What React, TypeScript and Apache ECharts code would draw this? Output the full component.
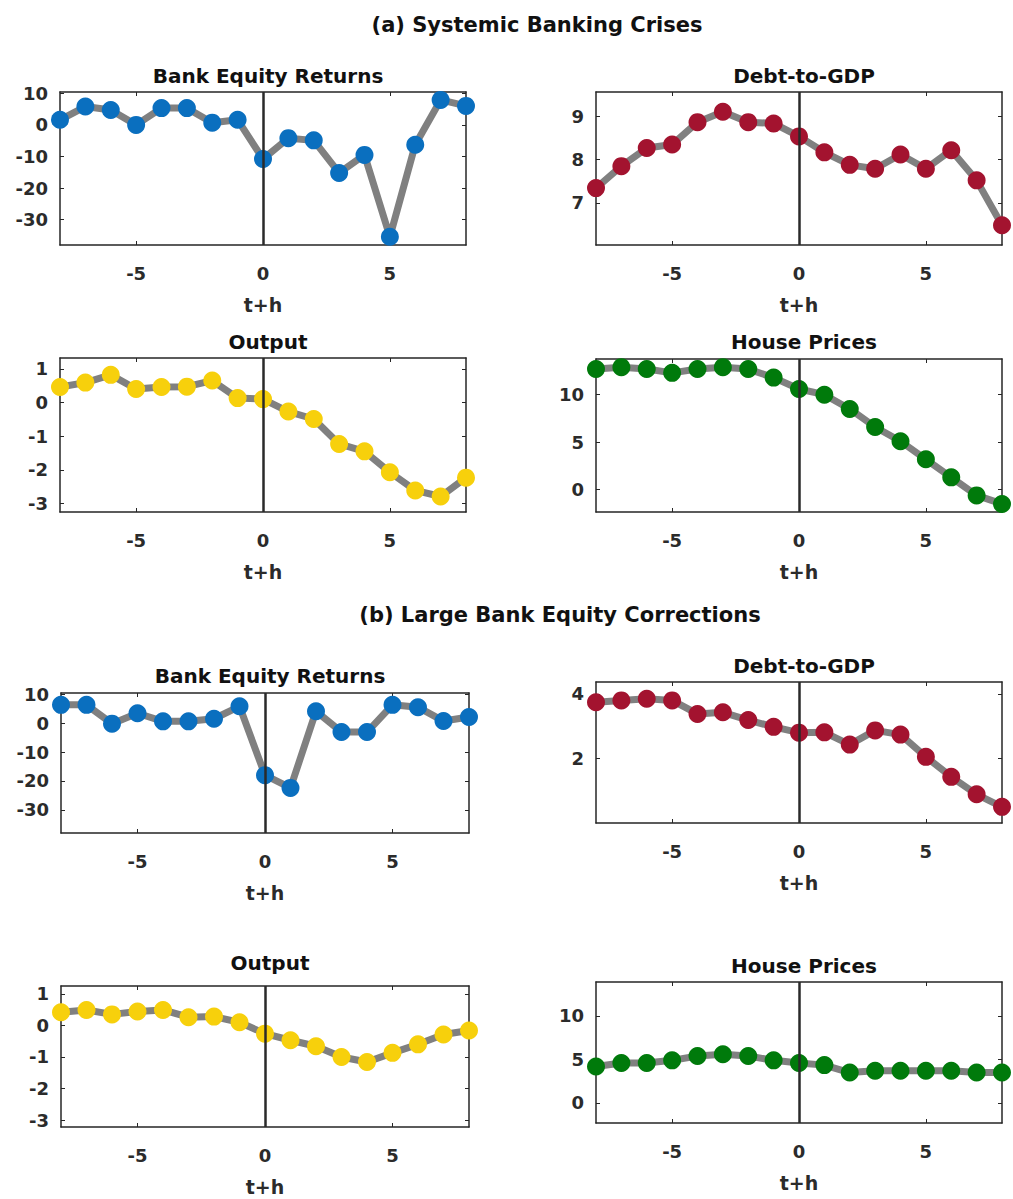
import React, { useEffect, useRef } from "react";
import * as echarts from "echarts";

const horizons: number[] = [-8, -7, -6, -5, -4, -3, -2, -1, 0, 1, 2, 3, 4, 5, 6, 7, 8];

// (a) Systemic Banking Crises
const aBankEquity: number[] = [1.6, 5.8, 4.7, 0.0, 5.3, 5.3, 0.7, 1.6, -10.8, -4.2, -4.9, -15.2, -9.5, -35.4, -6.3, 7.9, 6.0];
const aDebt: number[] = [7.34, 7.85, 8.27, 8.35, 8.87, 9.11, 8.87, 8.84, 8.54, 8.17, 7.88, 7.79, 8.12, 7.79, 8.22, 7.52, 6.48];
const aOutput: number[] = [0.46, 0.59, 0.82, 0.4, 0.46, 0.47, 0.65, 0.13, 0.1, -0.27, -0.49, -1.23, -1.45, -2.07, -2.61, -2.79, -2.23];
const aHouse: number[] = [12.7, 12.9, 12.7, 12.3, 12.7, 12.9, 12.7, 11.8, 10.6, 10.0, 8.5, 6.6, 5.1, 3.2, 1.3, -0.6, -1.5];

// (b) Large Bank Equity Corrections
const bBankEquity: number[] = [6.3, 6.3, -0.2, 3.4, 0.6, 0.6, 1.5, 5.8, -18.0, -22.4, 4.1, -3.1, -3.1, 6.3, 5.5, 0.7, 2.1];
const bDebt: number[] = [3.74, 3.8, 3.85, 3.8, 3.38, 3.43, 3.19, 2.98, 2.8, 2.81, 2.43, 2.87, 2.74, 2.05, 1.43, 0.89, 0.5];
const bOutput: number[] = [0.42, 0.49, 0.35, 0.44, 0.49, 0.26, 0.28, 0.1, -0.26, -0.47, -0.66, -1.0, -1.16, -0.87, -0.6, -0.29, -0.16];
const bHouse: number[] = [4.2, 4.6, 4.6, 4.9, 5.4, 5.6, 5.4, 4.9, 4.6, 4.35, 3.5, 3.7, 3.7, 3.7, 3.7, 3.5, 3.5];

// tick labels
const xTicks: number[] = [-5, 0, 5];
const bankTicks: number[] = [-30, -20, -10, 0, 10];
const debtATicks: number[] = [7, 8, 9];
const debtBTicks: number[] = [2, 4];
const outputTicks: number[] = [-3, -2, -1, 0, 1];
const houseTicks: number[] = [0, 5, 10];

const sectionTitles: string[] = ["(a) Systemic Banking Crises", "(b) Large Bank Equity Corrections"];
const panelTitles: string[] = ["Bank Equity Returns", "Debt-to-GDP", "Output", "House Prices"];
const xName = "t+h";

const FONT = "'DejaVu Sans', 'Liberation Sans', Arial, sans-serif";
const AXIS_COLOR = "#262626";
const LINE_GRAY = "#808080";
const COLORS = ["#0A6FBF", "#A3132F", "#F7D00C", "#007A0B"];

type Panel = {
  title: string;
  data: number[];
  ticks: number[];
  min: number;
  max: number;
  color: string;
  grid: { left: number; top: number; width: number; height: number };
  titleY: number;
};

const panels: Panel[] = [
  { title: panelTitles[0], data: aBankEquity, ticks: bankTicks, min: -38, max: 10.4, color: COLORS[0], grid: { left: 60, top: 92, width: 406, height: 153 }, titleY: 73 },
  { title: panelTitles[1], data: aDebt, ticks: debtATicks, min: 6.02, max: 9.57, color: COLORS[1], grid: { left: 596, top: 92, width: 406, height: 153 }, titleY: 73 },
  { title: panelTitles[2], data: aOutput, ticks: outputTicks, min: -3.25, max: 1.32, color: COLORS[2], grid: { left: 60, top: 358, width: 406, height: 154 }, titleY: 339 },
  { title: panelTitles[3], data: aHouse, ticks: houseTicks, min: -2.35, max: 13.76, color: COLORS[3], grid: { left: 596, top: 359, width: 406, height: 153 }, titleY: 339 },
  { title: panelTitles[0], data: bBankEquity, ticks: bankTicks, min: -38, max: 10.4, color: COLORS[0], grid: { left: 61, top: 693, width: 408, height: 140 }, titleY: 673 },
  { title: panelTitles[1], data: bDebt, ticks: debtBTicks, min: 0.0, max: 4.37, color: COLORS[1], grid: { left: 596, top: 682, width: 406, height: 141 }, titleY: 663 },
  { title: panelTitles[2], data: bOutput, ticks: outputTicks, min: -3.22, max: 1.25, color: COLORS[2], grid: { left: 61, top: 986, width: 408, height: 141 }, titleY: 960 },
  { title: panelTitles[3], data: bHouse, ticks: houseTicks, min: -2.3, max: 13.9, color: COLORS[3], grid: { left: 596, top: 982, width: 406, height: 141 }, titleY: 963 },
];

function buildOption() {
  const grids: any[] = [];
  const xAxes: any[] = [];
  const yAxes: any[] = [];
  const series: any[] = [];
  const titles: any[] = [];

  titles.push({
    text: sectionTitles[0], left: 532, top: 9, textAlign: "center",
    textStyle: { fontFamily: FONT, fontWeight: "bold", fontSize: 21, color: "#111" },
  });
  titles.push({
    text: sectionTitles[1], left: 555, top: 599, textAlign: "center",
    textStyle: { fontFamily: FONT, fontWeight: "bold", fontSize: 21, color: "#111" },
  });

  const axisLine = { show: true, onZero: false, lineStyle: { color: AXIS_COLOR, width: 1.5 } };
  const tickInside = (vals: number[]) => ({
    show: true, inside: true, length: 4, customValues: vals,
    lineStyle: { color: AXIS_COLOR, width: 1 },
  });
  const labelStyle = { fontFamily: FONT, fontWeight: "bold", fontSize: 18, color: "#2b2b2b" };

  panels.forEach((p, i) => {
    grids.push({ ...p.grid, containLabel: false, show: false });
    titles.push({
      text: p.title,
      left: p.grid.left + p.grid.width / 2,
      top: p.titleY - 12,
      textAlign: "center",
      textStyle: { fontFamily: FONT, fontWeight: "bold", fontSize: 20, color: "#111" },
    });
    // bottom x axis
    xAxes.push({
      type: "value", gridIndex: i, min: -8, max: 8, position: "bottom",
      axisLine, axisTick: tickInside(xTicks), splitLine: { show: false },
      axisLabel: { ...labelStyle, margin: 19, customValues: xTicks },
      name: xName, nameLocation: "middle", nameGap: 50,
      nameTextStyle: { ...labelStyle, fontSize: 19 },
    });
    // top mirrored axis
    xAxes.push({
      type: "value", gridIndex: i, min: -8, max: 8, position: "top",
      axisLine, axisTick: tickInside(xTicks), splitLine: { show: false },
      axisLabel: { show: false },
    });
    // left y axis
    yAxes.push({
      type: "value", gridIndex: i, min: p.min, max: p.max, position: "left",
      axisLine, axisTick: tickInside(p.ticks), splitLine: { show: false },
      axisLabel: { ...labelStyle, margin: 12, customValues: p.ticks },
    });
    // right mirrored axis
    yAxes.push({
      type: "value", gridIndex: i, min: p.min, max: p.max, position: "right",
      axisLine, axisTick: tickInside(p.ticks), splitLine: { show: false },
      axisLabel: { show: false },
    });

    series.push({
      type: "line",
      xAxisIndex: 2 * i,
      yAxisIndex: 2 * i,
      data: horizons.map((h, k) => [h, p.data[k]]),
      clip: false,
      symbol: "circle",
      symbolSize: 18,
      lineStyle: { color: LINE_GRAY, width: 7 },
      itemStyle: { color: p.color },
      z: 3,
      markLine: {
        silent: true,
        symbol: ["none", "none"],
        label: { show: false },
        lineStyle: { color: "#2a2a2a", width: 2.5, type: "solid" },
        data: [{ xAxis: 0 }],
        z: 4,
      },
    });
  });

  return {
    animation: false,
    backgroundColor: "#ffffff",
    title: titles,
    grid: grids,
    xAxis: xAxes,
    yAxis: yAxes,
    series,
  };
}

export default function App() {
  const ref = useRef<HTMLDivElement>(null);
  useEffect(() => {
    document.body.style.margin = "0";
    if (!ref.current) return;
    const chart = echarts.init(ref.current, null, { renderer: "svg" });
    chart.setOption(buildOption());
    return () => chart.dispose();
  }, []);
  return <div ref={ref} style={{ width: 1013, height: 1199 }} />;
}
